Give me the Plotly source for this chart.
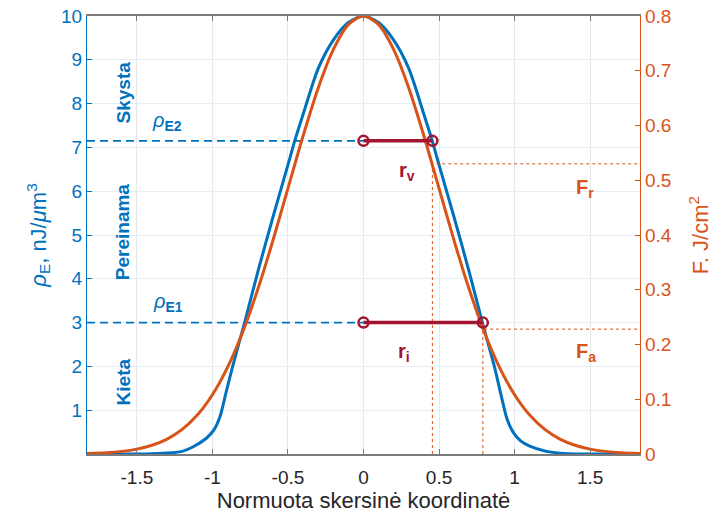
import plotly.graph_objects as go

# ---- data ----
blue_x = [-1.83, -1.45, -1.3, -1.2, -1.13, -1.04, -0.99, -0.95, -0.91, -0.866, -0.787,
          -0.7, -0.6, -0.5, -0.455, -0.4, -0.3, -0.2, -0.1, 0.0,
          0.1, 0.2, 0.3, 0.4, 0.455, 0.5, 0.6, 0.7, 0.787, 0.866, 0.91, 0.95, 0.99,
          1.04, 1.1, 1.2, 1.3, 1.45, 1.83]
blue_rho = [0.0, 0.0, 0.02, 0.06, 0.16, 0.36, 0.55, 0.85, 1.4, 2.0, 3.0,
            4.15, 5.4, 6.6, 7.15, 7.75, 8.8, 9.45, 9.85, 10.0,
            9.85, 9.45, 8.8, 7.75, 7.15, 6.6, 5.4, 4.15, 3.0, 2.0, 1.35, 0.8, 0.5,
            0.3, 0.18, 0.07, 0.02, 0.0, 0.0]

orange_x = [-1.83, -1.7, -1.6, -1.5, -1.4, -1.3, -1.2, -1.1, -1.0, -0.9, -0.8,
            -0.7, -0.6, -0.5, -0.4, -0.3, -0.2, -0.1, 0.0,
            0.1, 0.2, 0.3, 0.4, 0.5, 0.6, 0.7, 0.8, 0.9, 1.0,
            1.1, 1.2, 1.3, 1.4, 1.5, 1.6, 1.7, 1.83]
orange_F = [0.001, 0.0025, 0.0048, 0.0089, 0.0159, 0.0272, 0.0449, 0.0711, 0.1083, 0.1583, 0.2224,
            0.3003, 0.3894, 0.4852, 0.5809, 0.6682, 0.7385, 0.7842, 0.8,
            0.7842, 0.7385, 0.6682, 0.5809, 0.4852, 0.3894, 0.3003, 0.2224, 0.1583, 0.1083,
            0.0711, 0.0449, 0.0272, 0.0159, 0.0089, 0.0048, 0.0025, 0.001]

rho_E2 = 7.15
rho_E1 = 3.0
r_v = 0.456
r_i = 0.79
F_r = 0.53
F_a = 0.228

X_RANGE = [-1.83, 1.83]
RHO_RANGE = [0, 10]
F_RANGE = [0, 0.8]

x_ticks = [-1.5, -1, -0.5, 0, 0.5, 1, 1.5]
x_ticktext = ["-1.5", "-1", "-0.5", "0", "0.5", "1", "1.5"]
rho_ticks = [1, 2, 3, 4, 5, 6, 7, 8, 9, 10]
F_ticks = [0, 0.1, 0.2, 0.3, 0.4, 0.5, 0.6, 0.7, 0.8]
F_ticktext = ["0", "0.1", "0.2", "0.3", "0.4", "0.5", "0.6", "0.7", "0.8"]

# ---- styles ----
BLUE = "#0072BD"
ORANGE = "#D95319"
RED = "#A2142F"
FONT = "Liberation Sans, Arial, sans-serif"
scale = F_RANGE[1] / RHO_RANGE[1]  # rho -> F axis conversion

fig = go.Figure()

# orange dotted guide lines (right axis)
fig.add_trace(go.Scatter(x=[r_v, r_v, X_RANGE[1]], y=[0, F_r, F_r], yaxis="y2",
                         mode="lines", line=dict(color=ORANGE, width=1, dash="3px,3px"),
                         hoverinfo="skip"))
fig.add_trace(go.Scatter(x=[r_i, r_i, X_RANGE[1]], y=[0, F_a, F_a], yaxis="y2",
                         mode="lines", line=dict(color=ORANGE, width=1, dash="3px,3px"),
                         hoverinfo="skip"))

# blue dashed threshold lines
for rho in (rho_E2, rho_E1):
    fig.add_trace(go.Scatter(x=[X_RANGE[0], 0], y=[rho, rho], mode="lines",
                             line=dict(color=BLUE, width=1.8, dash="8px,5px"),
                             hoverinfo="skip"))

# blue energy density curve
fig.add_trace(go.Scatter(x=blue_x, y=blue_rho, mode="lines",
                         line=dict(color=BLUE, width=3, shape="spline", smoothing=0.8)))

# orange fluence curve
fig.add_trace(go.Scatter(x=orange_x, y=orange_F, yaxis="y2", mode="lines",
                         line=dict(color=ORANGE, width=3, shape="spline", smoothing=0.8)))

# red radius segments (drawn on the right axis so they sit on top)
for r, rho in ((r_v, rho_E2), (r_i, rho_E1)):
    fig.add_trace(go.Scatter(x=[0, r], y=[rho * scale, rho * scale], yaxis="y2",
                             mode="lines+markers",
                             line=dict(color=RED, width=3.5),
                             marker=dict(symbol="circle-open", size=10, color=RED,
                                         line=dict(width=2.5, color=RED))))

annotations = []
def ann(text, x, y, color, size=20, angle=0):
    annotations.append(dict(text=text, x=x, y=y, xref="x", yref="y", showarrow=False,
                            textangle=angle, xanchor="center", yanchor="middle",
                            font=dict(family=FONT, size=size, color=color)))

ann("<b>Skysta</b>", -1.59, 8.26, BLUE, 19, -90)
ann("<b>Pereinama</b>", -1.59, 5.07, BLUE, 19, -90)
ann("<b>Kieta</b>", -1.59, 1.64, BLUE, 19, -90)
ann("<i>ρ</i><sub><b>E2</b></sub>", -1.30, 7.60, BLUE, 20)
ann("<i>ρ</i><sub><b>E1</b></sub>", -1.295, 3.45, BLUE, 20)
ann("<b>r</b><sub><b>v</b></sub>", 0.285, 6.46, RED, 20)
ann("<b>r</b><sub><b>i</b></sub>", 0.27, 2.31, RED, 20)
ann("<b>F</b><sub><b>r</b></sub>", 1.467, 6.07, ORANGE, 20)
ann("<b>F</b><sub><b>a</b></sub>", 1.474, 2.31, ORANGE, 20)

fig.update_layout(
    width=713, height=517,
    margin=dict(l=87, r=73, t=16, b=63),
    paper_bgcolor="white", plot_bgcolor="white",
    showlegend=False,
    font=dict(family=FONT, size=19, color="#262626"),
    annotations=annotations,
    xaxis=dict(range=X_RANGE, tickvals=x_ticks, ticktext=x_ticktext, automargin=False,
               showgrid=True, gridcolor="#e6e8ec", gridwidth=1,
               zeroline=False, showline=True, linecolor="#7a7a7a", linewidth=1.5,
               mirror="ticks", ticks="inside", ticklen=5, tickcolor="#7a7a7a",
               ticklabelstandoff=5, ticklabeloverflow="allow",
               tickfont=dict(size=19, color="#262626"),
               title=dict(text="Normuota skersinė koordinatė",
                          font=dict(size=22, color="#262626"), standoff=0)),
    yaxis=dict(range=RHO_RANGE, tickvals=rho_ticks, automargin=False,
               showgrid=True, gridcolor="#e3eef7", gridwidth=1,
               zeroline=False, showline=True, linecolor=BLUE, linewidth=1.2,
               ticks="inside", ticklen=5, tickcolor=BLUE, ticklabeloverflow="allow",
               tickfont=dict(size=19, color=BLUE),
               title=dict(text="<i>ρ</i><sub>E</sub>, nJ/<i>μ</i>m<sup>3</sup>",
                          font=dict(size=22, color=BLUE), standoff=8)),
    yaxis2=dict(range=F_RANGE, tickvals=F_ticks, ticktext=F_ticktext, automargin=False,
                overlaying="y", side="right", showgrid=False,
                zeroline=False, showline=True, linecolor=ORANGE, linewidth=1.2,
                ticks="inside", ticklen=5, tickcolor=ORANGE, ticklabeloverflow="allow",
                tickfont=dict(size=19, color=ORANGE),
                title=dict(text="F. J/cm<sup>2</sup>",
                           font=dict(size=22, color=ORANGE), standoff=22)),
)

# remove the default 8px page margin so the figure fills the window exactly
fig.write_html("out.html", config={"displayModeBar": False},
               post_script="document.body.style.margin='0';document.body.style.overflow='hidden';")
